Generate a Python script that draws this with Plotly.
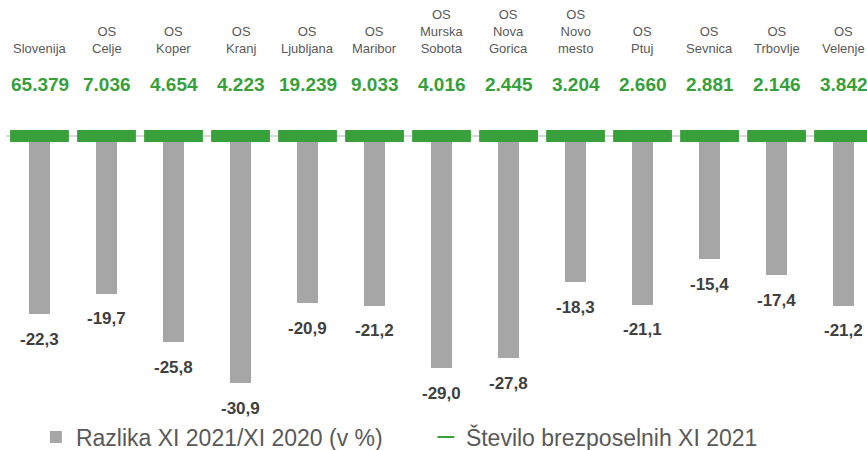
import plotly.graph_objects as go

# ---- data ----
categories = ["Slovenija", "OS Celje", "OS Koper", "OS Kranj", "OS Ljubljana", "OS Maribor",
              "OS Murska Sobota", "OS Nova Gorica", "OS Novo mesto", "OS Ptuj",
              "OS Sevnica", "OS Trbovlje", "OS Velenje"]
razlika = [-22.3, -19.7, -25.8, -30.9, -20.9, -21.2, -29.0, -27.8, -18.3, -21.1, -15.4, -17.4, -21.2]
stevilo = [65379, 7036, 4654, 4223, 19239, 9033, 4016, 2445, 3204, 2660, 2881, 2146, 3842]
series_names = ["Razlika XI 2021/XI 2020 (v %)", "Število brezposelnih XI 2021"]

GRAY = "#a6a6a6"
GREEN = "#37a03a"
FONT = "Liberation Sans, Arial, sans-serif"

x = list(range(len(categories)))
labels_multi = [c.replace(" ", "<br>") for c in categories]
fmt_pct = [f"{v:.1f}".replace(".", ",") for v in razlika]
fmt_num = [f"{v:,}".replace(",", ".") for v in stevilo]

fig = go.Figure()
fig.add_trace(go.Bar(
    x=x, y=razlika, name=series_names[0], width=0.31,
    marker=dict(color=GRAY, line=dict(width=0)),
))
fig.add_trace(go.Scatter(
    x=x, y=[0] * len(x), name=series_names[1], mode="markers",
    marker=dict(symbol="line-ew", size=42, color=GREEN,
                line=dict(color=GREEN, width=12)),
    cliponaxis=True,
))

annotations = []
for i in x:
    annotations.append(dict(
        x=i, y=razlika[i], xref="x", yref="y", text=f"<b>{fmt_pct[i]}</b>",
        showarrow=False, yanchor="middle", yshift=-25,
        font=dict(family=FONT, size=17, color="#404040")))
    annotations.append(dict(
        x=i, y=1, xref="x", yref="paper", text=f"<b>{fmt_num[i]}</b>",
        showarrow=False, yanchor="middle", yshift=15.5,
        font=dict(family=FONT, size=19, color=GREEN)))
    annotations.append(dict(
        x=i, y=1, xref="x", yref="paper", text=labels_multi[i],
        showarrow=False, yanchor="bottom", yshift=42,
        font=dict(family=FONT, size=13, color="#595959")))

fig.update_layout(
    width=867, height=450,
    margin=dict(l=6, r=0, t=100, b=0, autoexpand=False),
    paper_bgcolor="white", plot_bgcolor="white",
    font=dict(family=FONT, color="#595959"),
    bargap=0,
    showlegend=True,
    legend=dict(orientation="h", x=0.0347, xanchor="left", y=0.037, yanchor="middle",
                font=dict(family=FONT, size=23, color="#595959"),
                itemsizing="constant", entrywidth=345, entrywidthmode="pixels",
                bgcolor="rgba(0,0,0,0)"),
    xaxis=dict(range=[-0.5, 12.35], showticklabels=False, showgrid=False,
               zeroline=False, showline=False, fixedrange=True),
    yaxis=dict(range=[-39.25, 4.5], showticklabels=False, showgrid=False,
               zeroline=True, zerolinecolor="#d9d9d9", zerolinewidth=1.5,
               showline=False, fixedrange=True),
    annotations=annotations,
)

fig.write_html("out.html", config={"displayModeBar": False},
               post_script="document.body.style.margin='0px';")
